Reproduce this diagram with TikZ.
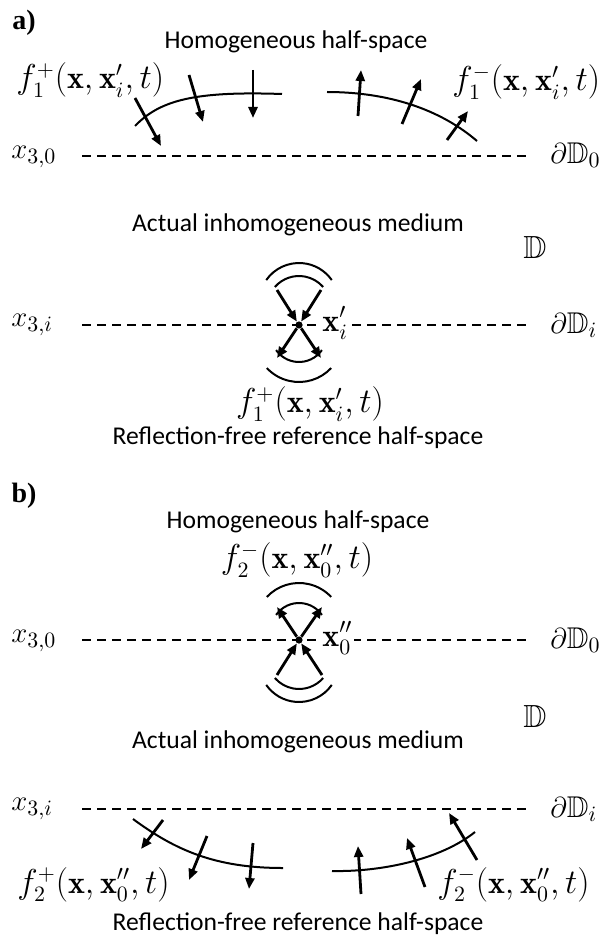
\documentclass[tikz,border=0pt]{standalone}
\usepackage{amsmath, amssymb}
\usepackage{fontspec}
\usepackage{tikz}
\usetikzlibrary{arrows.meta, calc}
\newfontfamily\calib{Carlito}
\newfontfamily\tagfont{Liberation Serif}

\begin{document}
\begin{tikzpicture}[x=0.5pt,y=-0.5pt,every node/.style={inner sep=0pt},
  medium/.style={font=\calib\fontsize{12.8}{15}\selectfont},
  sym/.style={font=\fontsize{16}{19}\selectfont},
  side/.style={font=\fontsize{15}{18}\selectfont,anchor=west},
  tag/.style={font=\tagfont\bfseries\fontsize{14}{16}\selectfont},
  level/.style={line width=0.85pt,dash pattern=on 4.5pt off 3pt},
  front/.style={line width=1pt},
  ray/.style={line width=1.4pt,-{Triangle[length=5.5pt,width=4.5pt]}},
  src/.style={circle,fill=black,minimum size=3.6pt},
  ptlabel/.style={sym,anchor=base west,fill=white,inner sep=1pt}]
  \useasboundingbox (0,0) rectangle (600,936);

  % ---- a) ----
  \node[tag] (taga) at (24,23) {a)};
  \node[medium] (homa) at (296,42) {Homogeneous half-space};
  \node[sym,anchor=base west] (fpa) at (16,89) {$f_1^+(\mathbf{x},\mathbf{x}'_i,t)$};
  \node[sym,anchor=base west] (fma) at (452,91) {$f_1^-(\mathbf{x},\mathbf{x}'_i,t)$};
  \node[side] (x30a) at (11,157) {$x_{3,0}$};
  \node[side] (d0a) at (550,155) {$\partial\mathbb{D}_0$};
  \draw[level] (82,156) -- (527,156);
  % down-going wavefront
  \draw[front] (135,126) .. controls (160,100) and (195,91) .. (282,94);
  \draw[ray] (135,98) -- (161,146);
  \draw[ray] (189,75) -- (203,122);
  \draw[ray] (253,70) -- (253,118);
  % up-going wavefront
  \draw[front] (327,92) .. controls (380,92) and (435,105) .. (477,141);
  \draw[ray] (358,116) -- (361,70);
  \draw[ray] (402,124) -- (421,79);
  \draw[ray] (447,140) -- (468,111);

  \node[medium] (acta) at (298,225) {Actual inhomogeneous medium};
  \node[sym] (dda) at (535,247) {$\mathbb{D}$};
  \node[side] (x3ia) at (11,325) {$x_{3,i}$};
  \node[side] (dia) at (550,325) {$\partial\mathbb{D}_i$};
  \draw[level] (82,325) -- (527,325);
  \node[src] (srca) at (299,325) {};
  \node[ptlabel] (xia) at (320,331) {$\mathbf{x}'_i$};
  \coordinate (ina1) at (277,290);
  \coordinate (ina2) at (321,290);
  \coordinate (outa1) at (277,358);
  \coordinate (outa2) at (321,358);
  \draw[front] (299,308) ++(221:32) arc[start angle=221,end angle=319,radius=32];
  \draw[front] (299,303) ++(215:40) arc[start angle=215,end angle=325,radius=40];
  \draw[front] (299,334) ++(35:28) arc[start angle=35,end angle=145,radius=28];
  \draw[front] (299,338) ++(43:44) arc[start angle=43,end angle=137,radius=44];
  \draw[ray] (ina1) -- (srca);
  \draw[ray] (ina2) -- (srca);
  \draw[ray] (srca) -- (outa1);
  \draw[ray] (srca) -- (outa2);
  \node[sym] (fpla) at (310,404) {$f_1^+(\mathbf{x},\mathbf{x}'_i,t)$};
  \node[medium] (refa) at (298,438) {Reflection-free reference half-space};

  % ---- b) ----
  \node[tag] (tagb) at (24,496) {b)};
  \node[medium] (homb) at (298,522) {Homogeneous half-space};
  \node[sym] (fmtb) at (297,560) {$f_2^-(\mathbf{x},\mathbf{x}''_0,t)$};
  \node[side] (x30b) at (11,641) {$x_{3,0}$};
  \node[side] (d0b) at (550,640) {$\partial\mathbb{D}_0$};
  \draw[level] (82,640) -- (527,640);
  \node[src] (srcb) at (299,640) {};
  \node[ptlabel] (x0b) at (320,646) {$\mathbf{x}''_0$};
  \coordinate (outb1) at (277,607);
  \coordinate (outb2) at (322,607);
  \coordinate (inb1) at (277,675);
  \coordinate (inb2) at (322,675);
  \draw[front] (299,631) ++(215:28) arc[start angle=215,end angle=325,radius=28];
  \draw[front] (299,627) ++(223:44) arc[start angle=223,end angle=317,radius=44];
  \draw[front] (299,657) ++(41:32) arc[start angle=41,end angle=139,radius=32];
  \draw[front] (299,662) ++(35:40) arc[start angle=35,end angle=145,radius=40];
  \draw[ray] (srcb) -- (outb1);
  \draw[ray] (srcb) -- (outb2);
  \draw[ray] (inb1) -- (srcb);
  \draw[ray] (inb2) -- (srcb);

  \node[sym] (ddb) at (535,716) {$\mathbb{D}$};
  \node[medium] (actb) at (298,742) {Actual inhomogeneous medium};
  \node[side] (x3ib) at (11,809) {$x_{3,i}$};
  \node[side] (dib) at (550,809) {$\partial\mathbb{D}_i$};
  \draw[level] (82,809) -- (527,809);
  % down-going wavefront
  \draw[front] (133,819) .. controls (175,850) and (215,868) .. (283,868);
  \draw[ray] (163,820) -- (141,849);
  \draw[ray] (207,836) -- (189,880);
  \draw[ray] (253,843) -- (249,889);
  % up-going wavefront
  \draw[front] (332,871) .. controls (380,872) and (440,860) .. (475,832);
  \draw[ray] (361,894) -- (358,846);
  \draw[ray] (425,887) -- (407,838);
  \draw[ray] (477,860) -- (449,813);
  \node[sym,anchor=base west] (fpb) at (17,893) {$f_2^+(\mathbf{x},\mathbf{x}''_0,t)$};
  \node[sym,anchor=base west] (fmb) at (437,893) {$f_2^-(\mathbf{x},\mathbf{x}''_0,t)$};
  \node[medium] (refb) at (298,924) {Reflection-free reference half-space};
\end{tikzpicture}
\end{document}
